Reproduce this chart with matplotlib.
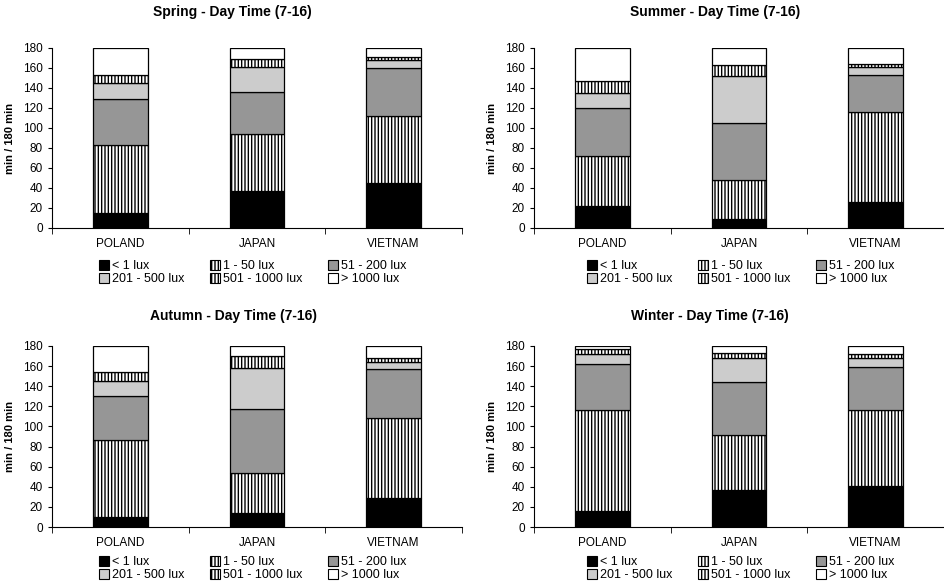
import matplotlib.pyplot as plt
from matplotlib.patches import Patch
import numpy as np

plt.rcParams['font.family'] = ['Liberation Sans', 'DejaVu Sans']
plt.rcParams['hatch.linewidth'] = 1.0

countries = ["POLAND", "JAPAN", "VIETNAM"]
classes = ["< 1 lux", "1 - 50 lux", "51 - 200 lux",
           "201 - 500 lux", "501 - 1000 lux", "> 1000 lux"]

# minutes (of 180) per light class, per country: POLAND, JAPAN, VIETNAM
spring = [[15, 37, 45], [68, 57, 67], [46, 42, 48], [16, 25, 8], [8, 8, 3], [27, 11, 9]]
summer = [[22, 9, 26], [50, 39, 90], [48, 57, 37], [15, 47, 8], [12, 11, 3], [33, 17, 16]]
autumn = [[10, 14, 29], [77, 40, 79], [43, 63, 49], [15, 41, 7], [9, 12, 4], [26, 10, 12]]
winter = [[16, 37, 41], [100, 54, 75], [46, 53, 43], [10, 24, 9], [5, 5, 4], [3, 7, 8]]

seasons = ["Spring", "Summer", "Autumn", "Winter"]
season_data = [spring, summer, autumn, winter]

colors = ["black", "white", "#969696", "#cccccc", "white", "white"]
hatches = [None, "|||||", None, None, "|||||", None]

W, H = 944, 583
fig = plt.figure(figsize=(W / 100, H / 100), dpi=100)

# axes boxes in pixels: left, top, right, bottom
boxes = [(52, 48, 462, 228), (534, 48, 944, 228),
         (52, 346, 462, 527), (534, 346, 944, 527)]
# title centres and legend anchors, pixels
title_pos = [(232, 12), (715, 12), (234, 316), (710, 316)]
legend_pos = [(99, 260), (587, 260), (99, 556), (587, 556)]

for name, data, (x0, y0, x1, y1), (tx, ty), (lx, ly) in zip(
        seasons, season_data, boxes, title_pos, legend_pos):
    ax = fig.add_axes([x0 / W, 1 - y1 / H, (x1 - x0) / W, (y1 - y0) / H])
    x = np.arange(len(countries))
    bottom = np.zeros(len(countries))
    for vals, c, h in zip(data, colors, hatches):
        ax.bar(x, vals, 0.4, bottom=bottom, color=c, hatch=h,
               edgecolor="black", linewidth=0.9)
        bottom += np.array(vals)

    ax.set_xlim(-0.5, 2.5)
    ax.set_ylim(0, 180)
    ax.set_yticks(range(0, 181, 20))
    ax.set_xticks(x)
    ax.set_xticklabels(countries)
    ax.set_xticks([-0.5, 0.5, 1.5, 2.5], minor=True)
    ax.tick_params(axis="x", which="major", length=0, labelsize=8.5, pad=7)
    ax.tick_params(axis="x", which="minor", length=4, direction="out")
    ax.tick_params(axis="y", length=3, labelsize=8.5)
    ax.spines["top"].set_visible(False)
    ax.spines["right"].set_visible(False)
    ax.set_ylabel("min / 180 min", fontsize=8, fontweight="bold", labelpad=6)
    fig.text(tx / W, 1 - ty / H, name + " - Day Time (7-16)", fontsize=10,
             fontweight="bold", ha="center", va="center")

    handles = [Patch(facecolor=c, edgecolor="black", hatch=h, linewidth=0.8)
               for c, h in zip(colors, hatches)]
    order = [0, 3, 1, 4, 2, 5]
    ax.legend([handles[i] for i in order], [classes[i] for i in order],
              ncol=3, loc="upper left", bbox_to_anchor=(lx / W, 1 - ly / H),
              bbox_transform=fig.transFigure, frameon=False, fontsize=9,
              handlelength=0.8, handleheight=0.8, handletextpad=0.2,
              columnspacing=2.1, labelspacing=0.1, borderpad=0, borderaxespad=0)

fig.savefig("out.png", dpi=100)
